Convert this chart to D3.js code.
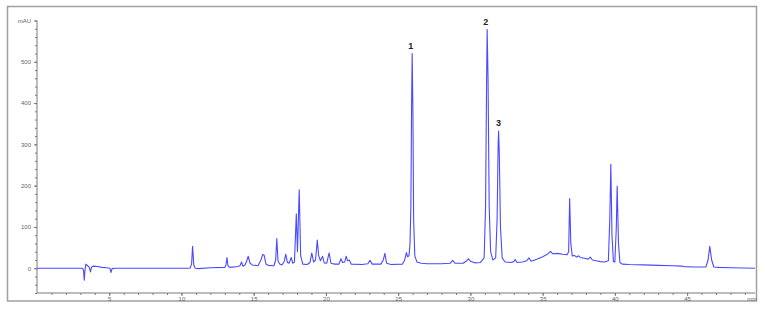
<!DOCTYPE html>
<html>
<head>
<meta charset="utf-8">
<script src="https://cdn.jsdelivr.net/npm/d3@7"></script>
<style>
  body { margin: 0; background: #fff; }
  svg { display: block; font-family: "Liberation Sans", Arial, sans-serif; }
</style>
</head>
<body>
<script>
// chromatogram trace (minutes, mAU)
const retentionTimes = [
  0, 3.15, 3.22, 3.27, 3.32, 3.38, 3.5, 3.62, 3.7, 3.78, 3.9, 4.2, 4.5, 4.8, 5.05, 5.12, 5.2, 5.4,
  10.5, 10.6, 10.7, 10.77, 10.85, 10.95, 11.2, 12, 13.0,
  13.08, 13.15, 13.22, 13.35, 13.9, 14.05, 14.16, 14.25, 14.4, 14.52, 14.62, 14.75, 14.9, 15.3,
  15.5, 15.62, 15.72, 15.85, 16.0, 16.4, 16.52, 16.6, 16.68, 16.8, 16.95, 17.1, 17.22, 17.33,
  17.45, 17.6, 17.7, 17.82, 17.95, 18.03, 18.15, 18.25, 18.4, 18.7, 18.9, 19.02, 19.15, 19.28,
  19.4, 19.5, 19.62, 19.77, 19.88, 20.05, 20.22, 20.35, 20.6, 20.9, 21.04, 21.15, 21.3, 21.4,
  21.5, 21.62, 21.75, 22.5, 22.9, 23.05, 23.2, 23.8, 23.97, 24.08, 24.2, 24.5, 25.3, 25.45,
  25.57, 25.65, 25.75, 25.82, 25.88, 25.93, 25.97, 26.02, 26.07, 26.15, 26.3, 26.6, 27, 28,
  28.6, 28.77, 28.95, 29.5, 29.75, 29.85, 30.0, 30.3, 30.7, 30.95, 31.05, 31.12, 31.16, 31.22,
  31.3, 31.4, 31.55, 31.75, 31.85, 31.92, 31.95, 32.0, 32.08, 32.2, 32.4, 32.8, 33.0, 33.1,
  33.22, 33.6, 33.9, 34.05, 34.2, 34.6, 35.0, 35.3, 35.45, 35.55, 35.7, 36.0, 36.4, 36.7, 36.8,
  36.87, 36.95, 37.05, 37.2, 37.35, 37.5, 37.6, 37.9, 38.15, 38.3, 38.45, 38.7, 39.0, 39.3,
  39.55, 39.65, 39.72, 39.8, 39.9, 40.0, 40.1, 40.16, 40.25, 40.35, 40.5, 41, 42, 43, 44, 44.6,
  44.8, 45.5, 46.3, 46.45, 46.57, 46.7, 46.85, 47.2, 48, 49.7
];
const absorbance = [
  0, 0, -5, -29, -5, 10, 6, 2, -9, 3, 5, 4, 2, 1, 0, -10, -1, 0,
  0, 0.5, 10, 53, 8, 0, -1, 1, 2,
  8, 26, 6, 2, 4, 6, 15, 5, 8, 18, 29, 12, 8, 6,
  20, 33, 32, 10, 7, 6, 20, 72, 18, 10, 8, 15, 34, 14,
  12, 26, 12, 15, 132, 40, 190, 30, 10, 9, 14, 37, 15, 20,
  68, 30, 18, 29, 13, 12, 37, 12, 10, 10, 23, 14, 15, 29,
  18, 20, 10, 9, 11, 19, 10, 10, 20, 36, 12, 9, 10, 20,
  38, 28, 30, 60, 150, 400, 520, 380, 120, 30, 15, 12, 11, 11,
  12, 19, 12, 12, 18, 23, 17, 13, 14, 25, 150, 450, 578, 460,
  150, 40, 20, 25, 120, 300, 332, 280, 100, 25, 15, 14, 16, 21,
  14, 15, 18, 25, 17, 22, 28, 33, 38, 41, 35, 36, 34, 33, 40,
  169, 60, 30, 31, 27, 30, 26, 24, 22, 27, 20, 18, 16, 15,
  18, 120, 252, 80, 16, 15, 100, 199, 60, 14, 10, 9, 8, 7, 6, 5,
  4, 3, 3, 20, 53, 20, 3, 2, 1, 0
];

// numbered peaks
const peakNames = ['1', '2', '3'];
const peakTimes = [25.97, 31.16, 31.95];
const peakHeights = [520, 578, 332];

// axes
const xMajorTicks = [5, 10, 15, 20, 25, 30, 35, 40, 45];
const xMinorTicks = d3.range(1, 50);
const yMajorTicks = [0, 100, 200, 300, 400, 500];
const yMinorTicks = d3.range(-60, 601, 20);
const xUnit = 'min';
const yUnit = 'mAU';

const width = 765;
const height = 311;

const svg = d3.select('body').append('svg')
  .attr('width', width)
  .attr('height', height);

// frame
svg.append('rect')
  .attr('x', 7.5).attr('y', 6.5)
  .attr('width', 749).attr('height', 294.5)
  .attr('fill', 'none')
  .attr('stroke', '#a0a0a0')
  .attr('stroke-width', 1.5);

const x = d3.scaleLinear().domain([0, 49.7]).range([37, 755]);
const y = d3.scaleLinear().domain([-60, 600]).range([293, 20.5]);

const axisColor = '#7a7a7a';
const textColor = '#666';

// y axis
const yAxis = svg.append('g').attr('transform', 'translate(37,0)');
yAxis.append('g')
  .call(d3.axisLeft(y).tickValues(yMinorTicks).tickSize(2).tickFormat(''))
  .call(g => g.select('.domain').remove())
  .selectAll('line').attr('stroke', axisColor);
yAxis.append('g')
  .call(d3.axisLeft(y).tickValues(yMajorTicks.concat([600])).tickSize(3).tickPadding(3)
    .tickFormat(d => d === 600 ? yUnit : d))
  .call(g => g.select('.domain').attr('stroke', axisColor).attr('d', `M0,${y(600)}V${y(-60)}`))
  .call(g => g.selectAll('line').attr('stroke', axisColor))
  .call(g => g.selectAll('text').attr('fill', textColor).attr('font-size', 6));

// x axis
const xAxis = svg.append('g').attr('transform', `translate(0,${y(-60)})`);
xAxis.append('g')
  .call(d3.axisBottom(x).tickValues(xMinorTicks).tickSize(2).tickFormat(''))
  .call(g => g.select('.domain').attr('stroke', axisColor).attr('d', `M${x(0)},0H${x(49.7)}`))
  .selectAll('line').attr('stroke', axisColor);
xAxis.append('g')
  .call(d3.axisBottom(x).tickValues(xMajorTicks).tickSize(3).tickPadding(1))
  .call(g => g.select('.domain').remove())
  .call(g => g.selectAll('line').attr('stroke', axisColor))
  .call(g => g.selectAll('text').attr('fill', textColor).attr('font-size', 6));
xAxis.append('text')
  .attr('x', x(49.5)).attr('y', 8)
  .attr('text-anchor', 'middle')
  .attr('fill', textColor)
  .attr('font-size', 6)
  .text(xUnit);

// trace
const points = retentionTimes.map((t, i) => [t, absorbance[i]]);
const line = d3.line()
  .x(d => x(d[0]))
  .y(d => y(d[1]));

svg.append('path')
  .datum(points)
  .attr('fill', 'none')
  .attr('stroke', '#4a4aff')
  .attr('stroke-width', 1.1)
  .attr('stroke-linejoin', 'round')
  .attr('d', line);

// peak numbers
svg.append('g')
  .selectAll('text')
  .data(peakNames)
  .enter().append('text')
    .attr('x', (d, i) => x(peakTimes[i]) + (i === 2 ? 0 : -1.5))
    .attr('y', (d, i) => y(peakHeights[i]) - 5)
    .attr('text-anchor', 'middle')
    .attr('font-size', 9)
    .attr('font-weight', 'bold')
    .attr('fill', '#222')
    .text(d => d);
</script>
</body>
</html>
